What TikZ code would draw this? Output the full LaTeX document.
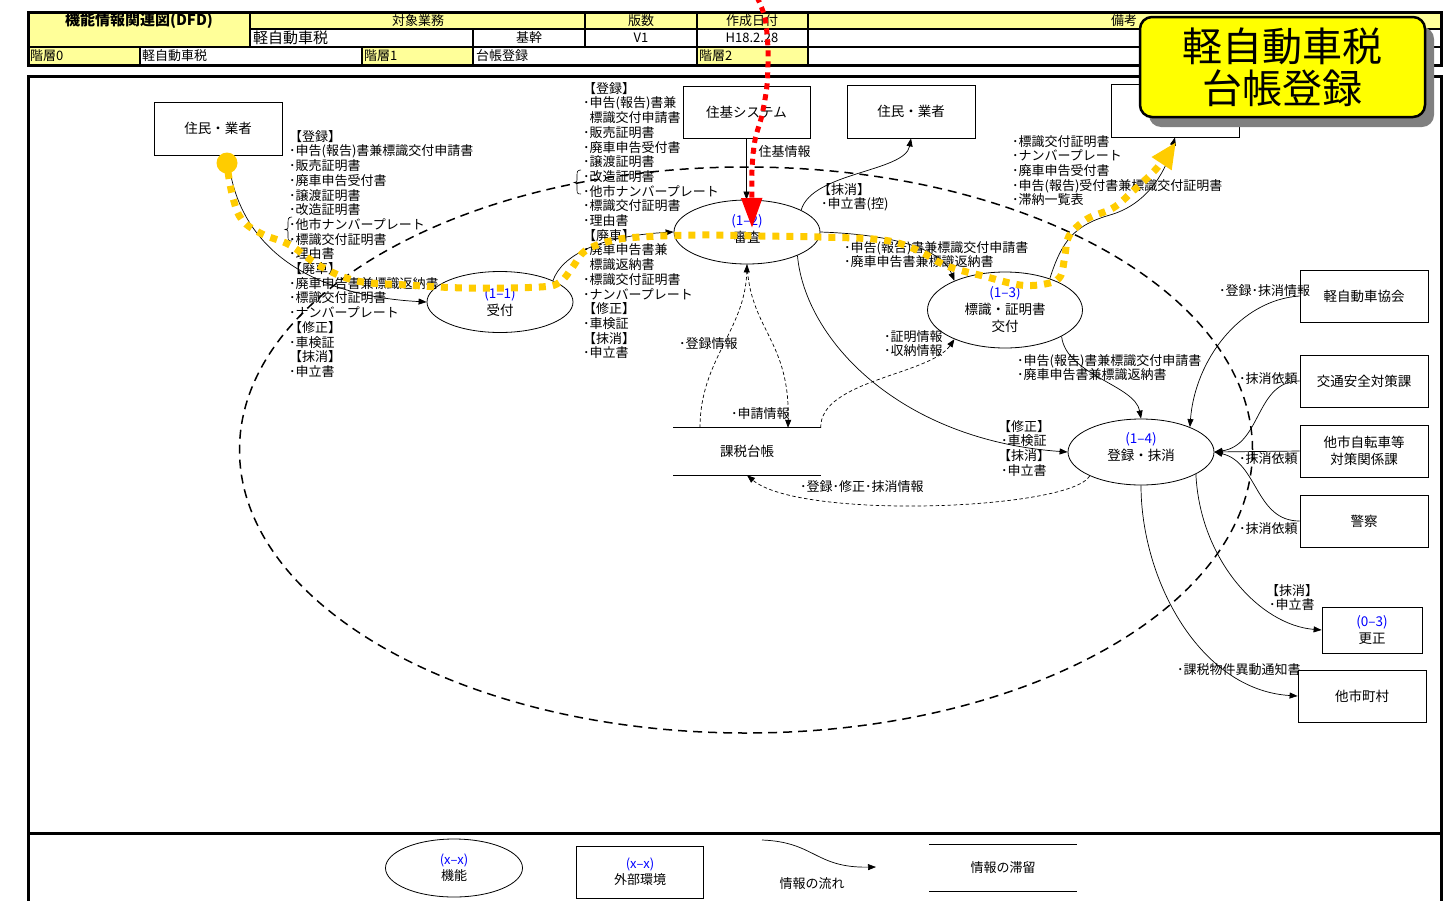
\documentclass[tikz,border=0pt]{standalone}
\usepackage{fontspec}
\setmainfont{Noto Sans CJK JP}
\usetikzlibrary{shapes.geometric,arrows.meta}
\definecolor{hdy}{HTML}{FFFF99}
\definecolor{cally}{HTML}{FFFF00}
\definecolor{gold}{HTML}{FFCC00}
\definecolor{lblue}{HTML}{0000FF}
\definecolor{shad}{HTML}{808080}
\newcommand{\bnum}[1]{{\color{lblue}\fontsize{13.5}{15}\selectfont #1}}
\begin{document}
\begin{tikzpicture}[x=1pt,y=-1pt,
 ent/.style={draw,line width=0.8pt,minimum width=128pt,minimum height=53pt,inner sep=0pt,font=\fontsize{13.5}{17}\selectfont,align=center},
 proc/.style={draw,ellipse,line width=0.8pt,inner sep=0pt,font=\fontsize{13.5}{17}\selectfont,align=center},
 ptxt/.style={inner sep=0pt,font=\fontsize{13.5}{17}\selectfont,align=center},
 lbl/.style={anchor=north west,inner sep=0pt,align=left,font=\fontsize{13}{14.7}\selectfont},
 hd/.style={inner sep=0pt,font=\fontsize{13}{14}\selectfont},
 flow/.style={line width=0.7pt,-{Triangle[length=8pt,width=6pt]}},
 dflow/.style={flow,dash pattern=on 3.5pt off 2.5pt},
 store/.style={inner sep=0pt,minimum width=147pt,minimum height=47pt,font=\fontsize{13.5}{17}\selectfont},
 legtxt/.style={inner sep=0pt,font=\fontsize{12.5}{15}\selectfont}]
\useasboundingbox (0,0) rectangle (1446,900);
\fill[white] (0,0) rectangle (1446,900);
% ---------- header ----------
\fill[hdy] (28,12) rectangle (1441,29);
\fill[hdy] (28,29) rectangle (250,47);
\fill[hdy] (28,47) rectangle (140,65);
\fill[hdy] (362,47) rectangle (473,65);
\fill[hdy] (697,47) rectangle (808,65);
\draw[line width=2pt] (250,29) -- (1441,29) (28,47) -- (1441,47)
  (250,12) -- (250,47) (585,12) -- (585,47) (697,12) -- (697,65) (808,12) -- (808,65)
  (473,29) -- (473,65) (140,47) -- (140,65) (362,47) -- (362,65);
\draw[line width=3pt] (28,12) rectangle (1441,65);
\node[hd,font=\fontsize{15}{16}\selectfont\bfseries] (h1) at (139,21) {機能情報関連図(DFD)};
\node[hd] (h2) at (418,20.5) {対象業務};
\node[hd] (h3) at (641,20.5) {版数};
\node[hd] (h4) at (752,20.5) {作成日付};
\node[hd] (h5) at (1124,20.5) {備考};
\node[hd,anchor=west,font=\fontsize{15}{16}\selectfont] (h6) at (253,38) {軽自動車税};
\node[hd] (h7) at (529,38) {基幹};
\node[hd] (h8) at (641,38) {V1};
\node[hd] (h9) at (752,38) {H18.2.28};
\node[hd,anchor=west] (h10) at (30,56) {階層0};
\node[hd,anchor=west] (h11) at (142,56) {軽自動車税};
\node[hd,anchor=west] (h12) at (364,56) {階層1};
\node[hd,anchor=west] (h13) at (476,56) {台帳登録};
\node[hd,anchor=west] (h14) at (699,56) {階層2};
% ---------- frame ----------
\draw[line width=3pt] (28,905) -- (28,76) -- (1441,76) -- (1441,905);
\draw[line width=3pt] (28,833) -- (1441,833);
\node[draw,ellipse,line width=1.5pt,dash pattern=on 9pt off 6pt,minimum width=1013pt,minimum height=566pt,inner sep=0pt] (scopeell) at (746,450) {};
% ---------- entities ----------
\node[ent] (ent1) at (218,128.5) {住民・業者};
\node[ent,minimum width=127pt,minimum height=52pt] (jk) at (746.5,112) {住基システム};
\node[ent] (ent2) at (911,111.5) {住民・業者};
\node[ent] (hid) at (1175,110.5) {};
\node[ent,minimum height=52pt] (kyo) at (1364,296) {軽自動車協会};
\node[ent,minimum height=52pt] (kot) at (1364,381) {交通安全対策課};
\node[ent,minimum height=52pt] (tas) at (1364,451) {他市自転車等\\対策関係課};
\node[ent,minimum height=52pt] (kei) at (1364,521) {警察};
\node[ent,minimum width=100pt,minimum height=46pt] (kos) at (1372,630) {\bnum{(0–3)}\\更正};
\node[ent,minimum height=52pt] (tam) at (1362,696) {他市町村};
% ---------- processes ----------
\node[proc,minimum width=146pt,minimum height=61pt] (p11) at (500,302) {\bnum{(1–1)}\\受付};
\node[proc,minimum width=146pt,minimum height=64pt] (p12) at (747,232) {};
\node[ptxt] (p12t) at (747,228.5) {\bnum{(1–2)}\\審査};
\node[proc,minimum width=155pt,minimum height=76pt] (p13) at (1005,310) {\bnum{(1–3)}\\標識・証明書\\交付};
\node[proc,minimum width=146pt,minimum height=66pt] (p14) at (1141,452) {};
\node[ptxt] (p14t) at (1141,447.5) {\bnum{(1–4)}\\登録・抹消};
% ---------- data store ----------
\node[store] (ds) at (747,451.5) {課税台帳};
\draw[line width=0.8pt] (ds.north west) -- (ds.north east) (ds.south west) -- (ds.south east);
% ---------- flows ----------
\draw[flow] ([xshift=10pt]ent1.south) .. controls (235,240) and (300,295) .. (p11.west);
\draw[flow] (p11.22) .. controls (562,255) and (600,236) .. (p12.west);
\draw[flow] (jk.south) -- (jk.south |- p12.north);
\draw[flow] (p12.22) .. controls (812,172) and (905,172) .. (ent2.south);
\draw[flow] (p12.east) .. controls (880,234) and (940,245) .. (p13.150);
\draw[flow] (p13.35) .. controls (1062,240) and (1075,225) .. (1110,215) .. controls (1145,205) and (1165,175) .. (hid.south);
\draw[flow] (p12.-25) .. controls (805,340) and (900,440) .. (p14.west);
\draw[flow] (p13.-25) .. controls (1066,375) and (1135,385) .. (p14.north);
\draw[flow] (kyo.west) .. controls (1240,300) and (1195,360) .. (p14.27);
\draw[flow] (kot.west) .. controls (1255,381) and (1262,445) .. (p14.east);
\draw[flow] (tas.west) -- (p14.east);
\draw[flow] (kei.west) .. controls (1255,521) and (1258,462) .. (p14.east);
\draw[flow] (p14.-22) .. controls (1200,560) and (1260,625) .. (kos.west);
\draw[flow] (p14.south) .. controls (1141,580) and (1200,690) .. (tam.west);
\draw[dflow] ([xshift=-47pt]ds.north) .. controls (700,360) and (745,330) .. (p12.south);
\draw[dflow] (p12.south) .. controls (750,330) and (790,340) .. ([xshift=41pt]ds.north);
\draw[dflow] (ds.north east) .. controls (820,380) and (930,375) .. (p13.210);
\draw[dflow] (p14.205) .. controls (1070,510) and (800,520) .. (ds.south);
% ---------- labels ----------
\node[lbl] (la) at (289,130) {【登録】\\･申告(報告)書兼標識交付申請書\\･販売証明書\\･廃車申告受付書\\･譲渡証明書\\･改造証明書\\･他市ナンバープレート\\･標識交付証明書\\･理由書\\【廃車】\\･廃車申告書兼標識返納書\\･標識交付証明書\\･ナンバープレート\\【修正】\\･車検証\\【抹消】\\･申立書};
\draw[line width=0.6pt] (292,217) .. controls (288,217) and (288,219) .. (288,224) -- (288,227) .. controls (288,229) .. (285,229.5) .. controls (288,230) .. (288,232) -- (288,236) .. controls (288,240) and (288,241) .. (292,241);
\node[lbl] (lb) at (583,82) {【登録】\\･申告(報告)書兼\\\phantom{･}標識交付申請書\\･販売証明書\\･廃車申告受付書\\･譲渡証明書\\･改造証明書\\･他市ナンバープレート\\･標識交付証明書\\･理由書\\【廃車】\\･廃車申告書兼\\\phantom{･}標識返納書\\･標識交付証明書\\･ナンバープレート\\【修正】\\･車検証\\【抹消】\\･申立書};
\draw[line width=0.6pt] (581,170) .. controls (577,170) and (577,172) .. (577,176) -- (577,180) .. controls (577,182) .. (574,182.5) .. controls (577,183) .. (577,185) -- (577,189) .. controls (577,193) and (577,194) .. (581,194);
\node[lbl] (lc) at (752,145) {･住基情報};
\node[lbl] (ld) at (818,183) {【抹消】\\\hspace*{3pt}･申立書(控)};
\node[lbl] (le) at (844,241) {･申告(報告)書兼標識交付申請書\\･廃車申告書兼標識返納書};
\node[lbl] (lf) at (1012,135) {･標識交付証明書\\･ナンバープレート\\･廃車申告受付書\\･申告(報告)受付書兼標識交付証明書\\･滞納一覧表};
\node[lbl] (lg) at (998,420) {【修正】\\\hspace*{3pt}･車検証\\【抹消】\\\hspace*{3pt}･申立書};
\node[lbl] (lh) at (1017,354) {･申告(報告)書兼標識交付申請書\\･廃車申告書兼標識返納書};
\node[lbl] (li) at (679,337) {･登録情報};
\node[lbl] (lj) at (731,407) {･申請情報};
\node[lbl] (lk) at (884,330) {･証明情報\\･収納情報};
\node[lbl] (ll) at (800,480) {･登録･修正･抹消情報};
\node[lbl] (lm) at (1219,284) {･登録･抹消情報};
\node[lbl] (ln) at (1239,372) {･抹消依頼};
\node[lbl] (lo) at (1239,452) {･抹消依頼};
\node[lbl] (lp) at (1239,522) {･抹消依頼};
\node[lbl] (lq) at (1266,584) {【抹消】\\\hspace*{3pt}･申立書};
\node[lbl] (lr) at (1177,663) {･課税物件異動通知書};
% ---------- legend ----------
\node[proc,minimum width=137pt,minimum height=58pt,font=\fontsize{13}{16}\selectfont] (lg1) at (454,868) {{\color{lblue}(x–x)}\\機能};
\node[ent,minimum width=127pt,minimum height=52pt,font=\fontsize{13}{16}\selectfont] (lg2) at (640,872) {{\color{lblue}(x–x)}\\外部環境};
\coordinate (lgs) at (762,840);
\coordinate (lge) at (876,867);
\draw[flow] (lgs) .. controls (815,842) and (815,868) .. (lge);
\node[legtxt,font=\fontsize{13}{15}\selectfont] (lg3) at (812,884) {情報の流れ};
\node[store,minimum height=46pt,font=\fontsize{13}{15}\selectfont] (lg4) at (1003,868) {情報の滞留};
\draw[line width=0.8pt] (lg4.north west) -- (lg4.north east) (lg4.south west) -- (lg4.south east);
% ---------- highlighted paths ----------
\fill[gold] (227,163) circle (10.5pt);
\draw[gold,line width=7pt,dash pattern=on 7pt off 7pt,-{Triangle[length=26pt,width=22pt]}] plot[smooth,tension=0.6] coordinates {(228,172) (233,198) (242,220) (262,234) (290,245) (320,266) (357,281) (407,285) (467,288) (540,287) (560,282) (572,268) (585,251) (610,241) (640,237) (700,235) (760,236) (820,237) (883,240) (917,250) (947,266) (987,277) (1020,285) (1045,284) (1060,277) (1065,255) (1069,236) (1087,219) (1113,208) (1133,191) (1157,168) (1176,142)};
\draw[red,line width=5pt,dash pattern=on 6pt off 5pt,-{Triangle[length=30pt,width=20pt]}] plot[smooth] coordinates {(757,-3) (765,18) (768,50) (767,85) (762,115) (755,140) (752,170) (752,228)};
% ---------- callout ----------
\fill[shad,rounded corners=12pt] (1149,27) rectangle (1434,127);
\node[draw,line width=2.5pt,fill=cally,rounded corners=12pt,minimum width=285pt,minimum height=100pt,inner sep=0pt,align=center,font=\fontsize{40}{42}\selectfont] (call) at (1282.5,67) {軽自動車税\\台帳登録};
\end{tikzpicture}
\end{document}
